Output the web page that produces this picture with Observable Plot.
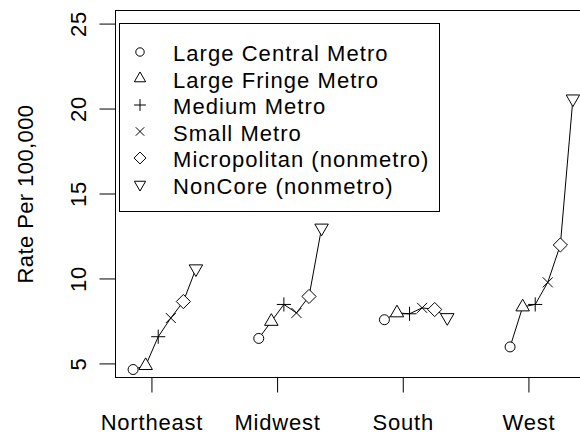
<!DOCTYPE html>
<html><head><meta charset="utf-8">
<script src="https://cdn.jsdelivr.net/npm/d3@7"></script>
<script src="https://cdn.jsdelivr.net/npm/@observablehq/plot@0.6"></script>
<style>
html,body{margin:0;padding:0;background:#fff;overflow:hidden;}
svg text{letter-spacing:0.8px;}
svg .ylab text{letter-spacing:0.4px;}
svg .legend text{letter-spacing:1.05px;}
</style>
</head><body><div id="chart"></div>
<script>
const regions = ["Northeast", "Midwest", "South", "West"];
const categories = ["Large Central Metro", "Large Fringe Metro", "Medium Metro", "Small Metro", "Micropolitan (nonmetro)", "NonCore (nonmetro)"];
const offsets = [-0.15, -0.05, 0.05, 0.15, 0.25, 0.35];
const northeast = [4.67, 4.9, 6.6, 7.7, 8.67, 10.6];
const midwest = [6.5, 7.5, 8.5, 8.0, 8.97, 13.0];
const south = [7.6, 8.0, 7.95, 8.3, 8.2, 7.73];
const west = [6.0, 8.35, 8.5, 9.8, 12.0, 20.6];
const yTicks = [5, 10, 15, 20, 25];
const yLabel = "Rate Per 100,000";

const series = [northeast, midwest, south, west];
const rows = regions.flatMap((reg, i) => categories.map((cat, j) => ({region: reg, cat, j, x: i + 1 + offsets[j], y: series[i][j]})));

function sym(fn) { return {draw(c, size) { fn(c, Math.sqrt(size / Math.PI)); }}; }
const TR = 1.555;
const shapes = [
  sym((c, r) => { c.moveTo(r, 0); c.arc(0, 0, r, 0, 2 * Math.PI); }),
  sym((c, r) => { const R = TR * r, xc = R * Math.sqrt(3) / 2, yc = R / 2; c.moveTo(0, -R); c.lineTo(xc, yc); c.lineTo(-xc, yc); c.closePath(); }),
  sym((c, r) => { const a = Math.SQRT2 * r; c.moveTo(-a, 0); c.lineTo(a, 0); c.moveTo(0, -a); c.lineTo(0, a); }),
  sym((c, r) => { c.moveTo(-r, -r); c.lineTo(r, r); c.moveTo(-r, r); c.lineTo(r, -r); }),
  sym((c, r) => { const a = Math.SQRT2 * r; c.moveTo(0, -a); c.lineTo(a, 0); c.lineTo(0, a); c.lineTo(-a, 0); c.closePath(); }),
  sym((c, r) => { const R = TR * r, xc = R * Math.sqrt(3) / 2, yc = R / 2; c.moveTo(0, R); c.lineTo(xc, -yc); c.lineTo(-xc, -yc); c.closePath(); })
];
// tick marks as symbols (length 16 leftwards / 15 downwards)
const tickLeft = {draw(c) { c.moveTo(-16, 0); c.lineTo(0, 0); }};
const tickDown = {draw(c) { c.moveTo(0, 0); c.lineTo(0, 15); }};

const font = "'Liberation Sans', Arial, Helvetica, sans-serif";
const chart = Plot.plot({
  width: 580, height: 434,
  marginLeft: 115, marginTop: 10, marginBottom: 57, marginRight: -10,
  x: {domain: [0.71, 4.49], axis: null},
  y: {domain: [4.2, 25.8], axis: null},
  style: {fontFamily: font, fontSize: "22px", color: "black", background: "white", overflow: "visible"},
  marks: [
    Plot.frame({stroke: "black", strokeWidth: 1}),
    Plot.dot(yTicks, {y: d => d, frameAnchor: "left", symbol: tickLeft, stroke: "black", strokeWidth: 1}),
    Plot.dot([1, 2, 3, 4], {x: d => d, frameAnchor: "bottom", symbol: tickDown, stroke: "black", strokeWidth: 1}),
    Plot.text(yTicks, {y: d => d, text: d => String(d), frameAnchor: "left", dx: -30, rotate: -90, textAnchor: "middle", lineAnchor: "bottom", fontSize: 22, fill: "black"}),
    Plot.text(regions, {x: (d, i) => i + 1, text: d => d, frameAnchor: "bottom", dy: 52, textAnchor: "middle", lineAnchor: "bottom", fontSize: 22, fill: "black"}),
    Plot.text([yLabel], {text: d => d, frameAnchor: "left", dx: -83, rotate: -90, textAnchor: "middle", lineAnchor: "bottom", fontSize: 22, fill: "black", className: "ylab"}),
    Plot.line(rows, {x: "x", y: "y", z: "region", stroke: "black", strokeWidth: 1}),
    ...shapes.map((s, j) => Plot.dot(rows.filter(d => d.j === j), {x: "x", y: "y", symbol: s, r: 5, stroke: "black", strokeWidth: 1, fill: (j === 2 || j === 3) ? "none" : "white"}))
  ]
});
document.getElementById("chart").appendChild(chart);

// legend
const svg = d3.select(chart);
const lg = svg.append("g").attr("class", "legend").attr("font-family", font).attr("font-size", 22).attr("text-anchor", "start");
lg.append("rect").attr("x", 119.5).attr("y", 23.5).attr("width", 320).attr("height", 188).attr("fill", "white").attr("stroke", "black");
categories.forEach((c, j) => {
  const yy = 52 + j * 26.5;
  lg.append("path").attr("d", d3.symbol(shapes[j], 4.2 * 4.2 * Math.PI)())
    .attr("transform", `translate(140,${yy})`).attr("fill", "none").attr("stroke", "black").attr("stroke-width", 1);
  lg.append("text").attr("x", 173).attr("y", yy + 9).attr("fill", "black").attr("text-anchor", "start").text(c);
});
</script>
</body></html>
